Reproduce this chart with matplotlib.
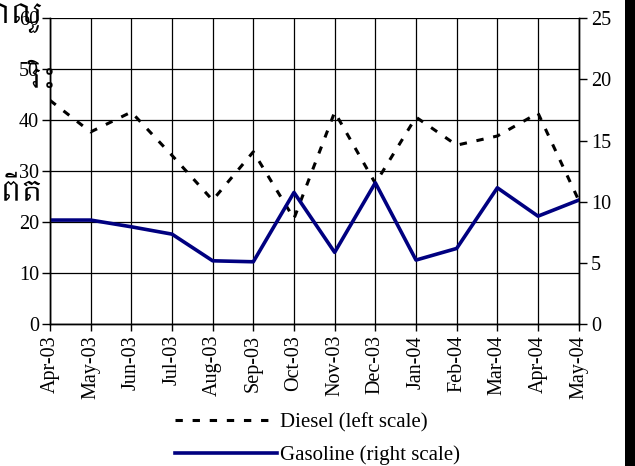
import numpy as np
import matplotlib
matplotlib.use('Agg')
import matplotlib.pyplot as plt
from matplotlib import font_manager
from matplotlib.patches import Rectangle

# monthly prices
months = ['Apr-03', 'May-03', 'Jun-03', 'Jul-03', 'Aug-03', 'Sep-03', 'Oct-03',
          'Nov-03', 'Dec-03', 'Jan-04', 'Feb-04', 'Mar-04', 'Apr-04', 'May-04']
diesel = [43.9, 37.7, 41.6, 33.1, 24.3, 33.8, 20.7,
          41.6, 27.6, 40.6, 35.1, 36.9, 41.4, 24.3]
gasoline = [8.5, 8.5, 7.95, 7.35, 5.17, 5.09, 10.76,
            5.86, 11.55, 5.23, 6.18, 11.14, 8.82, 10.13]

left_ticks = [0, 10, 20, 30, 40, 50, 60]
right_ticks = [0, 5, 10, 15, 20, 25]

plt.rcParams['font.family'] = ['Liberation Serif', 'DejaVu Serif']

fig = plt.figure(figsize=(6.35, 4.66), dpi=100)
ax1 = fig.add_axes([0.0787, 0.3047, 0.9113 - 0.0787, 0.9607 - 0.3047])
ax2 = ax1.twinx()

x = np.arange(len(months))
l1, = ax1.plot(x, diesel, color='black', linewidth=2.2, linestyle=(0, (2.4, 3.2)),
               label='Diesel (left scale)')
l2, = ax2.plot(x, gasoline, color='#000080', linewidth=2.6,
               label='Gasoline (right scale)')

ax1.set_xlim(0, len(months) - 1)
ax1.set_ylim(0, 60)
ax2.set_ylim(0, 25)
ax1.set_xticks(x)
ax1.set_xticklabels(months, rotation=90, fontsize=14.5)
ax1.set_yticks(left_ticks)
ax2.set_yticks(right_ticks)
ax1.tick_params(axis='y', labelsize=14.5, direction='out', length=6, width=1, pad=2)
ax1.tick_params(axis='x', direction='out', length=5, width=1, pad=3)
ax2.tick_params(axis='y', labelsize=14.5, direction='out', length=6, width=1, pad=3)
ax1.grid(True, color='black', linewidth=0.9)
ax1.set_axisbelow(True)
for a in (ax1, ax2):
    a.spines['top'].set_visible(False)
    for s in ('left', 'right', 'bottom'):
        a.spines[s].set_linewidth(1)

fig.legend(handles=[l1, l2], loc='center left', bbox_to_anchor=(175 / 635, 0.058),
           frameon=False, fontsize=15, handlelength=4.9, handletextpad=0.15,
           borderpad=0, borderaxespad=0, labelspacing=0.6)

# Khmer fragments at the left edge in the original
khmer = [f.name for f in font_manager.fontManager.ttflist if 'Khmer' in f.name]
if khmer:
    kf = dict(fontsize=21, family=khmer[0], va='center')
    fig.text(0.0, 1 - 18 / 466, 'ាលួ', **kf)
    fig.text(0.05, 1 - 74 / 466, 'រិះ', **kf)
    fig.text(0.0, 1 - 186 / 466, 'ពើត', **kf)

# black strip along the right edge
fig.add_artist(Rectangle((625 / 635, 0), 10 / 635, 1, transform=fig.transFigure,
                         facecolor='black', edgecolor='none'))

fig.savefig('out.png', dpi=100)
